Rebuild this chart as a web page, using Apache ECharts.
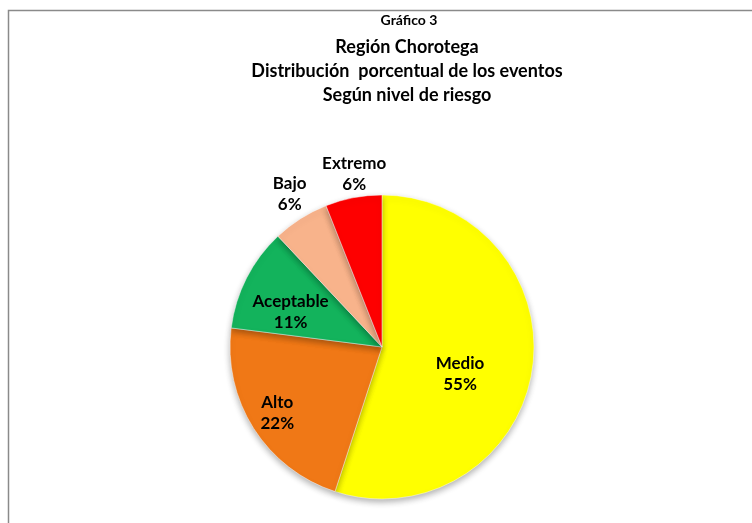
<!DOCTYPE html>
<html>
<head>
<meta charset="utf-8">
<title>Gráfico 3</title>
<script src="https://cdn.jsdelivr.net/npm/echarts@6/dist/echarts.min.js"></script>
<style>
  html, body { margin: 0; padding: 0; background: #fff; }
  #chart { width: 752px; height: 523px; }
</style>
</head>
<body>
<div id="chart"></div>
<script>
// datos
const categories = ['Medio', 'Alto', 'Aceptable', 'Bajo', 'Extremo']
const values = [55, 22, 11, 6, 6]
const colors = ['#ffff00', '#f07816', '#13b35c', '#f8b38b', '#fe0000']
// desplazamiento de cada etiqueta respecto a su posicion 'inside'
const labelOffsets = [[0, 15], [-38, 24], [-21, 1], [-50, -86], [-13, -95]]

const chart = echarts.init(document.getElementById('chart'))
const font = 'Lato, "Open Sans", sans-serif'

chart.setOption({
  backgroundColor: '#fff',
  animation: false,
  title: [
    {
      text: 'Gráfico 3',
      left: 404,
      top: 8,
      textAlign: 'center',
      textStyle: { fontFamily: font, fontSize: 14, fontWeight: 'bold', color: '#000' }
    },
    {
      text: 'Región Chorotega\nDistribución  porcentual de los eventos\nSegún nivel de riesgo',
      left: 402,
      top: 30,
      textAlign: 'center',
      textStyle: { fontFamily: font, fontSize: 18, fontWeight: 'bold', color: '#000', lineHeight: 24 }
    }
  ],
  graphic: [
    {
      type: 'rect',
      shape: { x: 8.5, y: 10.5, width: 800, height: 600 },
      style: { fill: 'none', stroke: '#8a8a8a', lineWidth: 1.5 },
      z: -1
    }
  ],
  series: [
    {
      type: 'pie',
      center: [382, 347],
      radius: 152,
      startAngle: 90,
      clockwise: true,
      itemStyle: {
        borderColor: 'rgba(255,255,255,0.45)',
        borderWidth: 1,
        shadowBlur: 6,
        shadowOffsetY: 3,
        shadowColor: 'rgba(0,0,0,0.3)'
      },
      label: {
        show: true,
        position: 'inside',
        formatter: '{b}\n{d}%',
        fontFamily: font,
        fontSize: 17,
        fontWeight: 'bold',
        color: '#000',
        lineHeight: 21,
        align: 'center'
      },
      labelLine: { show: false },
      emphasis: { disabled: true },
      data: categories.map((name, i) => ({
        name: name,
        value: values[i],
        itemStyle: { color: colors[i] },
        label: { offset: labelOffsets[i] }
      }))
    }
  ]
})
</script>
</body>
</html>
